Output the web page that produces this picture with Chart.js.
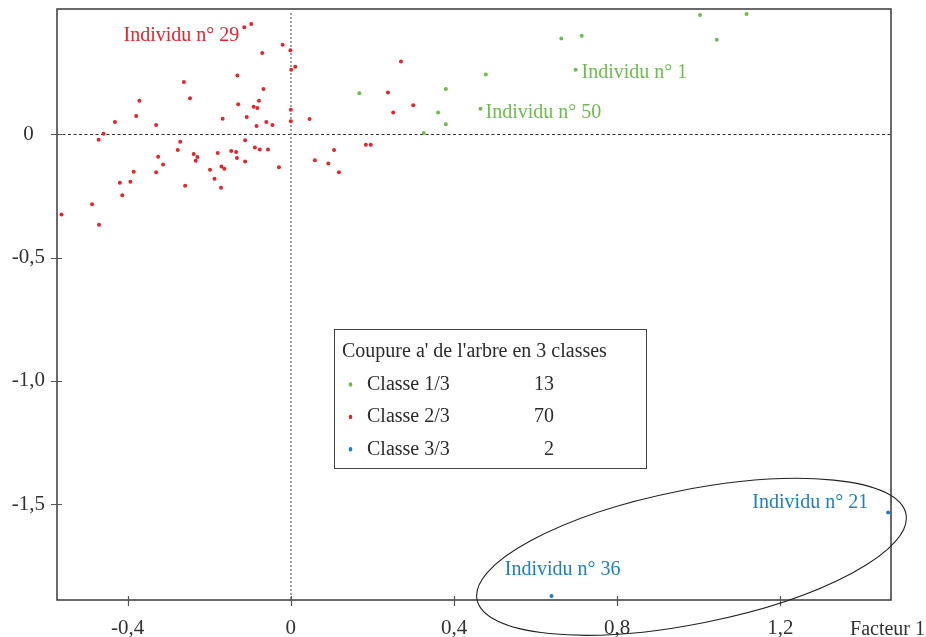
<!DOCTYPE html>
<html>
<head>
<meta charset="utf-8">
<script src="https://cdn.jsdelivr.net/npm/chart.js@4.4.0/dist/chart.umd.min.js"></script>
<style>
  html, body { margin: 0; padding: 0; background: #ffffff; }
  canvas { display: block; }
</style>
</head>
<body>
<canvas id="plan" width="926" height="637"></canvas>
<script>
// Coordinates of the individuals on factors 1 (x) and 2 (y), by class
const classe1 = [
  [0.168, 0.166], [0.380, 0.184], [0.361, 0.088], [0.380, 0.041], [0.326, 0.005],
  [0.478, 0.242], [0.465, 0.104], [0.663, 0.388], [0.713, 0.400], [1.003, 0.484],
  [1.117, 0.488], [1.044, 0.383], [0.698, 0.262]
];
const classe2 = [
  [-0.114, 0.434], [-0.097, 0.447], [-0.020, 0.363], [-0.001, 0.341], [-0.070, 0.330],
  [0.001, 0.262], [0.011, 0.274], [-0.131, 0.238], [-0.262, 0.212], [-0.067, 0.184],
  [-0.247, 0.146], [-0.371, 0.136], [-0.078, 0.136], [-0.129, 0.122], [-0.091, 0.112],
  [-0.082, 0.107], [0.000, 0.100], [-0.379, 0.074], [-0.108, 0.070], [-0.167, 0.063],
  [0.000, 0.053], [-0.431, 0.050], [-0.060, 0.050], [-0.330, 0.038], [-0.084, 0.034],
  [-0.045, 0.038], [-0.459, 0.002], [-0.471, -0.022], [-0.271, -0.030], [-0.112, -0.024],
  [-0.277, -0.064], [-0.088, -0.053], [-0.076, -0.062], [-0.056, -0.062], [-0.146, -0.068],
  [-0.134, -0.072], [-0.179, -0.076], [-0.238, -0.080], [-0.325, -0.091], [-0.229, -0.092],
  [-0.233, -0.107], [-0.132, -0.096], [-0.112, -0.110], [-0.313, -0.122], [-0.170, -0.131],
  [-0.163, -0.140], [-0.198, -0.144], [-0.029, -0.134], [-0.385, -0.152], [-0.330, -0.154],
  [-0.187, -0.180], [-0.419, -0.196], [-0.393, -0.192], [-0.259, -0.209], [-0.171, -0.217],
  [-0.413, -0.247], [-0.487, -0.284], [-0.562, -0.325], [-0.470, -0.367], [0.046, 0.062],
  [0.270, 0.295], [0.238, 0.169], [0.251, 0.088], [0.300, 0.118], [0.184, -0.042],
  [0.196, -0.042], [0.106, -0.064], [0.059, -0.105], [0.092, -0.118], [0.118, -0.154]
];
const classe3 = [
  [0.639, -1.872], [1.464, -1.533]
];

const classNames = ['Classe 1/3', 'Classe 2/3', 'Classe 3/3'];
const legendTitle = "Coupure a' de l'arbre en 3 classes";

const xTicks = [-0.4, 0, 0.4, 0.8, 1.2];
const xTickLabels = ['-0,4', '0', '0,4', '0,8', '1,2'];
const yTicks = [0, -0.5, -1.0, -1.5];
const yTickLabels = ['0', '-0,5', '-1,0', '-1,5'];
const xAxisTitle = 'Facteur 1';

// Named individuals: [text, class index, point index]
const namedIndividuals = [
  ['Individu n° 29', 1, 0],
  ['Individu n° 1', 0, 12],
  ['Individu n° 50', 0, 6],
  ['Individu n° 21', 2, 1],
  ['Individu n° 36', 2, 0]
];

// Ellipse around class 3, in data units: centre, semi-axes (x-scale units), tilt
const ellipse3 = { cx: 0.982, cy: -1.713, a: 0.536, b: 0.164, tiltDeg: 11.3 };

const COLORS = ['#6dbd4e', '#e8232b', '#1c80c2'];
const SERIF = '"Liberation Serif", "DejaVu Serif", serif';
const INK = '#2b2b2b';

// Label placement relative to its point (pixels)
const labelPlacement = [
  { align: 'right', dx: -5, dy: 13.5 },
  { align: 'left', dx: 6, dy: 8.6 },
  { align: 'left', dx: 5, dy: 9.6 },
  { align: 'right', dx: -20, dy: -4.6 },
  { align: 'left', dx: -46.7, dy: -20.7 }
];

const seriesList = [classe1, classe2, classe3];

const decorPlugin = {
  id: 'decor',
  beforeDatasetsDraw(chart) {
    const { ctx, chartArea: ca, scales: { x, y } } = chart;
    const x0 = x.getPixelForValue(0);
    const y0 = y.getPixelForValue(0);
    ctx.save();
    // horizontal zero line
    ctx.strokeStyle = '#333';
    ctx.lineWidth = 1;
    ctx.setLineDash([3, 2.5]);
    ctx.beginPath();
    ctx.moveTo(ca.left, Math.round(y0) + 0.5);
    ctx.lineTo(ca.right, Math.round(y0) + 0.5);
    ctx.stroke();
    // vertical zero line
    ctx.strokeStyle = '#8a8a8a';
    ctx.lineWidth = 1.6;
    ctx.setLineDash([2, 2]);
    ctx.beginPath();
    ctx.moveTo(Math.round(x0), ca.top + 4);
    ctx.lineTo(Math.round(x0), ca.bottom);
    ctx.stroke();
    ctx.restore();
  },
  afterDraw(chart) {
    const { ctx, chartArea: ca, scales: { x, y } } = chart;
    ctx.save();
    // frame
    ctx.strokeStyle = '#3a3a3a';
    ctx.lineWidth = 1.5;
    ctx.setLineDash([]);
    ctx.strokeRect(ca.left, ca.top, ca.right - ca.left, ca.bottom - ca.top);

    // tick marks crossing the axes
    ctx.strokeStyle = '#555';
    ctx.lineWidth = 1.2;
    ctx.beginPath();
    xTicks.forEach(v => {
      const px = Math.round(x.getPixelForValue(v)) + 0.5;
      ctx.moveTo(px, ca.bottom - 4);
      ctx.lineTo(px, ca.bottom + 6);
    });
    yTicks.forEach(v => {
      const py = Math.round(y.getPixelForValue(v)) + 0.5;
      ctx.moveTo(ca.left - 6, py);
      ctx.lineTo(ca.left + 5, py);
    });
    ctx.stroke();

    // axis title
    ctx.fillStyle = '#333';
    ctx.font = '20px ' + SERIF;
    ctx.textAlign = 'right';
    ctx.textBaseline = 'alphabetic';
    ctx.fillText(xAxisTitle, 925, 635);

    // ellipse around class 3
    const ecx = x.getPixelForValue(ellipse3.cx);
    const ecy = y.getPixelForValue(ellipse3.cy);
    const unit = x.getPixelForValue(1) - x.getPixelForValue(0);
    ctx.strokeStyle = '#222';
    ctx.lineWidth = 1.1;
    ctx.beginPath();
    ctx.ellipse(ecx, ecy, ellipse3.a * unit, ellipse3.b * unit,
      -ellipse3.tiltDeg * Math.PI / 180, 0, Math.PI * 2);
    ctx.stroke();

    // point labels
    ctx.font = '20px ' + SERIF;
    ctx.textBaseline = 'alphabetic';
    namedIndividuals.forEach((item, i) => {
      const [text, cls, idx] = item;
      const pt = seriesList[cls][idx];
      const px = x.getPixelForValue(pt[0]);
      const py = y.getPixelForValue(pt[1]);
      const pl = labelPlacement[i];
      ctx.fillStyle = COLORS[cls];
      ctx.textAlign = pl.align;
      ctx.fillText(text, px + pl.dx, py + pl.dy);
    });

    // legend box
    const bx = 334, by = 329, bw = 312, bh = 139;
    ctx.fillStyle = '#fff';
    ctx.fillRect(bx, by, bw, bh);
    ctx.strokeStyle = '#444';
    ctx.lineWidth = 1;
    ctx.strokeRect(bx + 0.5, by + 0.5, bw, bh);
    ctx.fillStyle = INK;
    ctx.textAlign = 'left';
    ctx.fillText(legendTitle, bx + 8, by + 28);
    seriesList.forEach((s, i) => {
      const rowY = by + 61 + i * 32.4;
      ctx.fillStyle = COLORS[i];
      ctx.beginPath();
      ctx.ellipse(bx + 16.5, rowY - 5.5, 1.8, 2.2, 0, 0, Math.PI * 2);
      ctx.fill();
      ctx.fillStyle = INK;
      ctx.textAlign = 'left';
      ctx.fillText(classNames[i], bx + 33, rowY);
      ctx.textAlign = 'right';
      ctx.fillText(String(s.length), bx + 220, rowY);
    });
    ctx.restore();
  }
};

new Chart(document.getElementById('plan'), {
  type: 'scatter',
  data: {
    datasets: seriesList.map((s, i) => ({
      label: classNames[i],
      data: s.map(p => ({ x: p[0], y: p[1] })),
      backgroundColor: COLORS[i],
      borderWidth: 0,
      pointRadius: 2,
      pointHoverRadius: 2
    }))
  },
  options: {
    responsive: false,
    animation: false,
    events: [],
    layout: { padding: { top: 9, right: 35, left: 0, bottom: 0 } },
    plugins: { legend: { display: false }, tooltip: { enabled: false } },
    scales: {
      x: {
        type: 'linear',
        min: -0.573,
        max: 1.471,
        afterBuildTicks: s => { s.ticks = xTicks.map(v => ({ value: v })); },
        afterFit: s => { s.height = 37; s.paddingLeft = 0; s.paddingRight = 0; },
        grid: { display: false, drawTicks: false },
        border: { display: false },
        ticks: {
          padding: 16,
          color: '#333',
          font: { family: SERIF, size: 21 },
          maxRotation: 0,
          autoSkip: false,
          callback: (v, i) => xTickLabels[i]
        }
      },
      y: {
        type: 'linear',
        min: -1.888,
        max: 0.508,
        afterBuildTicks: s => { s.ticks = yTicks.map(v => ({ value: v })); },
        afterFit: s => { s.width = 57; s.paddingTop = 0; s.paddingBottom = 0; },
        grid: { display: false, drawTicks: false },
        border: { display: false },
        ticks: {
          padding: 12,
          crossAlign: 'center',
          color: '#333',
          font: { family: SERIF, size: 21 },
          autoSkip: false,
          callback: (v, i) => yTickLabels[i]
        }
      }
    }
  },
  plugins: [decorPlugin]
});
</script>
</body>
</html>
